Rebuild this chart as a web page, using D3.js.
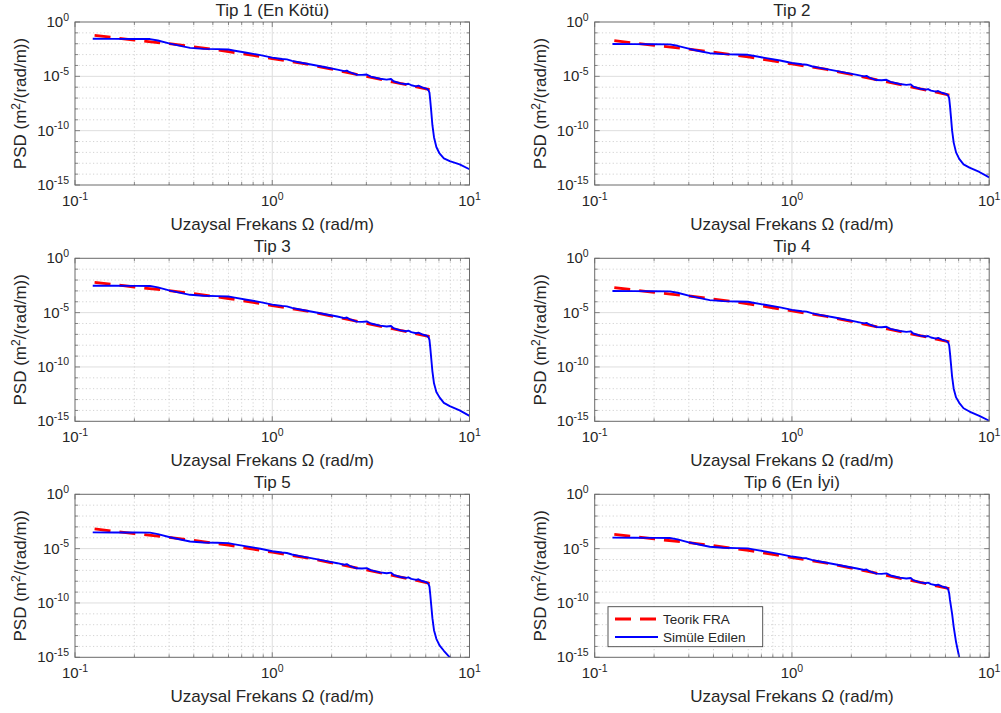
<!DOCTYPE html>
<html>
<head>
<meta charset="utf-8">
<script src="https://cdn.jsdelivr.net/npm/d3@7"></script>
<style>
  body { margin: 0; background: #fff; }
  text { font-family: "Liberation Sans", Arial, sans-serif; fill: #262626; }
</style>
</head>
<body>
<svg id="chart" width="1001" height="713"></svg>
<script>
// ---- data (PSD values kept as log10 exponents) ----
const tipTitles = ["Tip 1 (En Kötü)", "Tip 2", "Tip 3", "Tip 4", "Tip 5", "Tip 6 (En İyi)"];

const fraOmega = [0.1257, 0.2, 0.3, 0.4, 0.5, 0.6, 0.8, 1.0, 1.5, 2.0, 3.0, 4.0, 5.0, 6.283];
const fraLog1 = [-1.23, -1.66, -2.00, -2.28, -2.52, -2.72, -3.08, -3.37, -3.88, -4.34, -5.00, -5.48, -5.84, -6.23];
const fraLog2 = [-1.72, -2.15, -2.49, -2.77, -3.01, -3.21, -3.57, -3.86, -4.37, -4.83, -5.49, -5.97, -6.33, -6.72];
const fraLog3 = [-2.21, -2.64, -2.98, -3.26, -3.50, -3.70, -4.06, -4.35, -4.86, -5.32, -5.98, -6.46, -6.82, -7.21];
const fraLog4 = [-2.70, -3.13, -3.47, -3.75, -3.99, -4.19, -4.55, -4.84, -5.35, -5.81, -6.47, -6.95, -7.31, -7.70];
const fraLog5 = [-3.19, -3.62, -3.96, -4.24, -4.48, -4.68, -5.04, -5.33, -5.84, -6.30, -6.96, -7.44, -7.80, -8.19];
const fraLog6 = [-3.68, -4.11, -4.45, -4.73, -4.97, -5.17, -5.53, -5.82, -6.33, -6.79, -7.45, -7.93, -8.29, -8.68];

const simOmega = [0.123, 0.158, 0.200, 0.240, 0.263, 0.303, 0.347, 0.383, 0.448, 0.525,
  0.598, 0.635, 0.741, 0.871, 1.000, 1.122, 1.186, 1.259, 1.384, 1.622,
  1.888, 2.138, 2.317, 2.388, 2.466, 2.679, 2.851, 3.013, 3.162, 3.524,
  3.802, 4.000, 4.121, 4.467, 4.786, 4.898, 5.070, 5.370, 5.508, 5.754,
  6.081, 6.194, 6.266, 6.324, 6.397, 6.486, 6.607, 6.792, 7.047, 7.413,
  7.943, 8.913, 10.0];
const simLog1 = [-1.54, -1.55, -1.56, -1.57, -1.70, -1.99, -2.22, -2.38, -2.47, -2.50,
  -2.53, -2.62, -2.83, -3.05, -3.28, -3.40, -3.44, -3.58, -3.73, -3.96,
  -4.19, -4.38, -4.52, -4.47, -4.62, -4.85, -4.87, -4.83, -5.02, -5.22,
  -5.30, -5.25, -5.45, -5.65, -5.73, -5.68, -5.82, -5.92, -5.86, -6.02,
  -6.15, -6.28, -6.50, -7.20, -8.20, -9.50, -10.6, -11.5, -12.1, -12.55,
  -12.8, -13.1, -13.55];
const simLog2 = [-2.03, -2.04, -2.05, -2.06, -2.19, -2.48, -2.71, -2.87, -2.96, -2.99,
  -3.02, -3.11, -3.32, -3.54, -3.77, -3.89, -3.93, -4.07, -4.22, -4.45,
  -4.68, -4.87, -5.01, -4.96, -5.11, -5.34, -5.36, -5.32, -5.51, -5.71,
  -5.79, -5.74, -5.94, -6.14, -6.22, -6.17, -6.31, -6.41, -6.35, -6.51,
  -6.64, -6.77, -7.00, -7.70, -8.70, -10.0, -11.1, -12.0, -12.6, -13.1,
  -13.4, -13.8, -14.3];
const simLog3 = [-2.52, -2.53, -2.54, -2.55, -2.68, -2.97, -3.20, -3.36, -3.45, -3.48,
  -3.51, -3.60, -3.81, -4.03, -4.26, -4.38, -4.42, -4.56, -4.71, -4.94,
  -5.17, -5.36, -5.50, -5.45, -5.60, -5.83, -5.85, -5.81, -6.00, -6.20,
  -6.28, -6.23, -6.43, -6.63, -6.71, -6.66, -6.80, -6.90, -6.84, -7.00,
  -7.13, -7.26, -7.50, -8.20, -9.20, -10.4, -11.5, -12.3, -12.8, -13.3,
  -13.6, -14.0, -14.5];
const simLog4 = [-3.01, -3.02, -3.03, -3.04, -3.17, -3.46, -3.69, -3.85, -3.94, -3.97,
  -4.00, -4.09, -4.30, -4.52, -4.75, -4.87, -4.91, -5.05, -5.20, -5.43,
  -5.66, -5.85, -5.99, -5.94, -6.09, -6.32, -6.34, -6.30, -6.49, -6.69,
  -6.77, -6.72, -6.92, -7.12, -7.20, -7.15, -7.29, -7.39, -7.33, -7.49,
  -7.62, -7.75, -8.00, -8.70, -9.70, -10.9, -12.0, -12.8, -13.3, -13.8,
  -14.1, -14.5, -14.95];
const simLog5 = [-3.50, -3.51, -3.52, -3.53, -3.66, -3.95, -4.18, -4.34, -4.43, -4.46,
  -4.49, -4.58, -4.79, -5.01, -5.24, -5.36, -5.40, -5.54, -5.69, -5.92,
  -6.15, -6.34, -6.48, -6.43, -6.58, -6.81, -6.83, -6.79, -6.98, -7.18,
  -7.26, -7.21, -7.41, -7.61, -7.69, -7.64, -7.78, -7.88, -7.82, -7.98,
  -8.11, -8.24, -8.50, -9.20, -10.2, -11.4, -12.5, -13.3, -13.9, -14.4,
  -15.0, -15.6, -16.2];
const simLog6 = [-3.99, -4.00, -4.01, -4.02, -4.15, -4.44, -4.67, -4.83, -4.92, -4.95,
  -4.98, -5.07, -5.28, -5.50, -5.73, -5.85, -5.89, -6.03, -6.18, -6.41,
  -6.64, -6.83, -6.97, -6.92, -7.07, -7.30, -7.32, -7.28, -7.47, -7.67,
  -7.75, -7.70, -7.90, -8.10, -8.18, -8.13, -8.27, -8.37, -8.31, -8.47,
  -8.60, -8.73, -9.10, -9.70, -10.3, -11.0, -12.2, -13.6, -15.0, -16.2,
  -17.0, -18.0, -19.0];

const fraSeries = [fraLog1, fraLog2, fraLog3, fraLog4, fraLog5, fraLog6];
const simSeries = [simLog1, simLog2, simLog3, simLog4, simLog5, simLog6];

const xMajor = [0.1, 1, 10];
const xMajorLabels = ["-1", "0", "1"];
const xMinor = [0.2, 0.3, 0.4, 0.5, 0.6, 0.7, 0.8, 0.9, 2, 3, 4, 5, 6, 7, 8, 9];
const yMajor = [1, 1e-5, 1e-10, 1e-15];
const yMajorLabels = ["0", "-5", "-10", "-15"];
const yMinor = [1e-1, 1e-2, 1e-3, 1e-4, 1e-6, 1e-7, 1e-8, 1e-9, 1e-11, 1e-12, 1e-13, 1e-14];

const legendLabels = ["Teorik FRA", "Simüle Edilen"];

// ---- layout ----
const colLeft = [75, 594.7];
const rowTop = [22, 258.3, 494.3];
const plotW = 394.5;
const plotH = 163;

const svg = d3.select('#chart');

const x = d3.scaleLog().domain([0.1, 10]).range([0, plotW]);
const y = d3.scaleLog().domain([1e-15, 1]).range([plotH, 0]);

const line = d3.line()
    .x(d => x(d[0]))
    .y(d => y(d[1]));

const supLabel = (sel, exp, base, sup) => {
    sel.append('tspan').attr('font-size', base).text('10');
    sel.append('tspan').attr('font-size', sup).attr('dy', -6.5).text(exp);
}

tipTitles.forEach((title, i) => {
    const left = colLeft[i % 2];
    const top = rowTop[Math.floor(i / 2)];
    const g = svg.append('g').attr('transform', `translate(${left},${top})`);

    g.append('clipPath').attr('id', 'clip' + i)
        .append('rect').attr('width', plotW).attr('height', plotH);

    // minor grid (dotted)
    g.selectAll('.gx').data(xMinor).enter().append('line')
        .attr('x1', d => x(d)).attr('x2', d => x(d))
        .attr('y1', 0).attr('y2', plotH)
        .attr('stroke', '#c8c8c8').attr('stroke-width', 0.8)
        .attr('stroke-dasharray', '1.2,2.4');
    g.selectAll('.gy').data(yMinor).enter().append('line')
        .attr('y1', d => y(d)).attr('y2', d => y(d))
        .attr('x1', 0).attr('x2', plotW)
        .attr('stroke', '#c8c8c8').attr('stroke-width', 0.8)
        .attr('stroke-dasharray', '1.2,2.4');
    // major grid
    g.selectAll('.mx').data([1]).enter().append('line')
        .attr('x1', d => x(d)).attr('x2', d => x(d))
        .attr('y1', 0).attr('y2', plotH)
        .attr('stroke', '#dedede').attr('stroke-width', 1);
    g.selectAll('.my').data([1e-5, 1e-10]).enter().append('line')
        .attr('y1', d => y(d)).attr('y2', d => y(d))
        .attr('x1', 0).attr('x2', plotW)
        .attr('stroke', '#dedede').attr('stroke-width', 1);

    // data lines
    const fra = fraOmega.map((w, j) => [w, Math.pow(10, fraSeries[i][j])]);
    const sim = simOmega.map((w, j) => [w, Math.pow(10, simSeries[i][j])]);
    const lines = g.append('g').attr('clip-path', `url(#clip${i})`);
    lines.append('path').datum(fra)
        .attr('d', line)
        .attr('fill', 'none')
        .attr('stroke', '#ff0000')
        .attr('stroke-width', 2.8)
        .attr('stroke-dasharray', '16,9');
    lines.append('path').datum(sim)
        .attr('d', line)
        .attr('fill', 'none')
        .attr('stroke', '#0000ff')
        .attr('stroke-width', 1.9)
        .attr('stroke-linejoin', 'round');

    // ticks (inside, mirrored on all four sides)
    const axCol = '#6a6a6a';
    const tick = (sel, vals, len, dir) => {
        vals.forEach(v => {
            if (dir === 'x') {
                sel.append('line').attr('x1', x(v)).attr('x2', x(v))
                    .attr('y1', plotH).attr('y2', plotH - len).attr('stroke', axCol);
                sel.append('line').attr('x1', x(v)).attr('x2', x(v))
                    .attr('y1', 0).attr('y2', len).attr('stroke', axCol);
            } else {
                sel.append('line').attr('y1', y(v)).attr('y2', y(v))
                    .attr('x1', 0).attr('x2', len).attr('stroke', axCol);
                sel.append('line').attr('y1', y(v)).attr('y2', y(v))
                    .attr('x1', plotW).attr('x2', plotW - len).attr('stroke', axCol);
            }
        })
    }
    const ticks = g.append('g').attr('stroke-width', 0.8);
    tick(ticks, xMajor, 5, 'x');
    tick(ticks, xMinor, 3, 'x');
    tick(ticks, yMajor, 5, 'y');
    tick(ticks, yMinor, 3, 'y');

    // box
    g.append('rect').attr('width', plotW).attr('height', plotH)
        .attr('fill', 'none').attr('stroke', axCol).attr('stroke-width', 1);

    // tick labels
    xMajor.forEach((v, j) => {
        const t = g.append('text')
            .attr('x', x(v)).attr('y', plotH + 21)
            .attr('text-anchor', 'middle');
        supLabel(t, xMajorLabels[j], 15, 10.5);
    });
    yMajor.forEach((v, j) => {
        const t = g.append('text')
            .attr('x', -6).attr('y', y(v) + 5)
            .attr('text-anchor', 'end');
        supLabel(t, yMajorLabels[j], 15, 10.5);
    });

    // title and axis labels
    g.append('text')
        .attr('x', plotW / 2).attr('y', -6)
        .attr('text-anchor', 'middle')
        .attr('font-size', 17)
        .text(title);
    g.append('text')
        .attr('x', plotW / 2).attr('y', plotH + 45)
        .attr('text-anchor', 'middle')
        .attr('font-size', 17)
        .text('Uzaysal Frekans Ω (rad/m)');
    const yl = g.append('text')
        .attr('transform', `translate(-49,${plotH / 2}) rotate(-90)`)
        .attr('text-anchor', 'middle')
        .attr('font-size', 17);
    yl.append('tspan').text('PSD (m');
    yl.append('tspan').attr('font-size', 12).attr('dy', -6).text('2');
    yl.append('tspan').attr('dy', 6).text('/(rad/m))');

    // legend only in the last panel
    if (i === 5) {
        const lg = g.append('g').attr('transform', 'translate(13.3,112.4)');
        lg.append('rect').attr('width', 154.7).attr('height', 40)
            .attr('fill', '#fff').attr('stroke', '#444').attr('stroke-width', 0.9);
        const styles = [
            { color: '#ff0000', width: 2.8, dash: '16,9' },
            { color: '#0000ff', width: 1.9, dash: null }
        ];
        legendLabels.forEach((lab, k) => {
            const cy = 12.3 + k * 18;
            lg.append('line')
                .attr('x1', 7).attr('x2', 50)
                .attr('y1', cy).attr('y2', cy)
                .attr('stroke', styles[k].color)
                .attr('stroke-width', styles[k].width)
                .attr('stroke-dasharray', styles[k].dash);
            lg.append('text')
                .attr('x', 55).attr('y', cy + 5)
                .attr('font-size', 13.5)
                .text(lab);
        });
    }
});
</script>
</body>
</html>
